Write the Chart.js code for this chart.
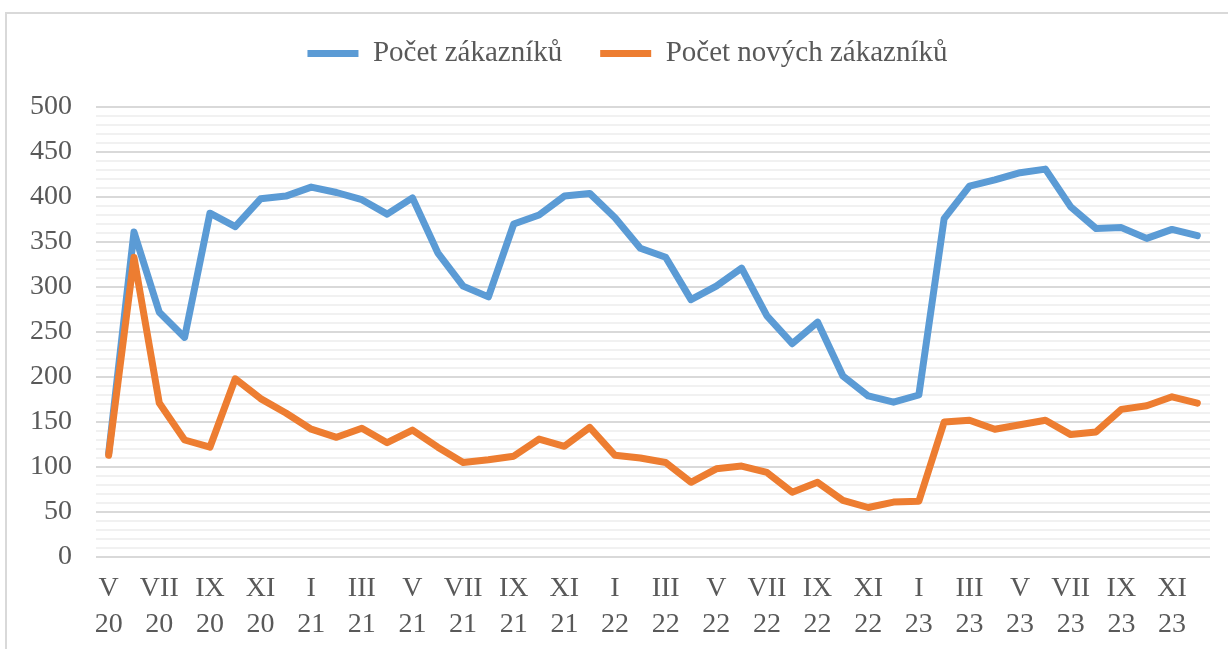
<!DOCTYPE html>
<html>
<head>
<meta charset="utf-8">
<script src="https://cdn.jsdelivr.net/npm/chart.js@4"></script>
<style>
  html, body { margin:0; padding:0; background:#fff; }
  #frame { position:absolute; left:5px; top:12px; width:1300px; height:700px;
           border-left:2px solid #d9d9d9; border-top:2px solid #d9d9d9; }
  #wrap { position:absolute; left:0; top:0; width:1228px; height:649px; }
</style>
</head>
<body>
<div id="frame"></div>
<div id="wrap"><canvas id="chart"></canvas></div>
<script>
const months = ['V','VI','VII','VIII','IX','X','XI','XII',
  'I','II','III','IV','V','VI','VII','VIII','IX','X','XI','XII',
  'I','II','III','IV','V','VI','VII','VIII','IX','X','XI','XII',
  'I','II','III','IV','V','VI','VII','VIII','IX','X','XI','XII'];
const years = ['20','20','20','20','20','20','20','20',
  '21','21','21','21','21','21','21','21','21','21','21','21',
  '22','22','22','22','22','22','22','22','22','22','22','22',
  '23','23','23','23','23','23','23','23','23','23','23','23'];
const customers = [115, 361, 272, 244, 382, 367, 398, 401, 411, 405, 397, 381,
  399, 338, 301, 289, 370, 380, 401, 404, 377, 343, 333, 286, 301, 321, 268, 237,
  261, 201, 179, 172, 180, 376, 412, 419, 427, 431, 389, 365, 366, 354, 364, 357];
const newCustomers = [113, 333, 171, 130, 122, 198, 176, 160, 142, 133, 143, 127,
  141, 122, 105, 108, 112, 131, 123, 144, 113, 110, 105, 83, 98, 101, 94, 72,
  83, 63, 55, 61, 62, 150, 152, 142, 147, 152, 136, 139, 164, 168, 178, 171];

const labels = months.map((m, i) => [m, years[i]]);
const FONT = 'Liberation Serif';
const TEXT = '#595959';

// extra room under the legend, and nudge it right a bit
const legendMargin = {
  id: 'legendMargin',
  beforeInit(chart){
    const fit = chart.legend.fit;
    chart.legend.fit = function(){
      fit.bind(chart.legend)();
      this.height += 29;
    };
  },
  afterLayout(chart){
    chart.legend.left += 15;
  }
};

new Chart(document.getElementById('chart'), {
  type: 'line',
  data: {
    labels,
    datasets: [
      { label:'Počet zákazníků', data:customers, borderColor:'#5B9BD5', backgroundColor:'#5B9BD5',
        borderWidth:7, pointRadius:0, tension:0, borderCapStyle:'round', borderJoinStyle:'round', order:1 },
      { label:'Počet nových zákazníků', data:newCustomers, borderColor:'#ED7D31', backgroundColor:'#ED7D31',
        borderWidth:7, pointRadius:0, tension:0, borderCapStyle:'round', borderJoinStyle:'round', order:0 }
    ]
  },
  options: {
    responsive: true,
    maintainAspectRatio: false,
    animation: false,
    layout: { padding: { left:30, right:18, top:1, bottom:0 } },
    plugins: {
      tooltip: { enabled:false },
      legend: {
        position: 'top',
        labels: {
          font: { family:FONT, size:29 },
          color: TEXT,
          usePointStyle: true,
          pointStyle: 'line',
          pointStyleWidth: 51,
          padding: 38,
          sort: (a, b) => a.datasetIndex - b.datasetIndex
        }
      }
    },
    scales: {
      x: {
        offset: true,
        afterFit(scale){ scale.height = 92; },
        grid: { display:false, drawTicks:false },
        border: { display:false },
        ticks: {
          autoSkip: false, maxRotation: 0, padding: 13,
          font: { family:FONT, size:28, lineHeight:1.3 },
          color: TEXT,
          callback(value, index){ return index % 2 === 0 ? this.getLabelForValue(value) : ''; }
        }
      },
      y: {
        min: 0, max: 500,
        afterFit(scale){ scale.width = 66; },
        grid: {
          drawTicks: false,
          lineWidth: 2,
          color: ctx => (ctx.tick && ctx.tick.value % 50 === 0) ? '#d9d9d9' : '#f1f1f1'
        },
        border: { display:false },
        ticks: {
          stepSize: 10, autoSkip: false, padding: 24,
          font: { family:FONT, size:28 },
          color: TEXT,
          callback: v => v % 50 === 0 ? v : ''
        }
      }
    }
  },
  plugins: [legendMargin]
});
</script>
</body>
</html>
